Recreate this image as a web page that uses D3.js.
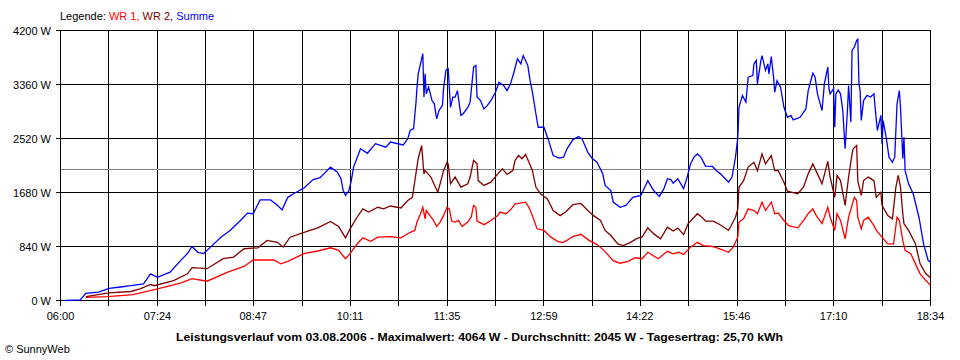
<!DOCTYPE html>
<html><head><meta charset="utf-8">
<script src="https://cdn.jsdelivr.net/npm/d3@7"></script>
<style>
html,body{margin:0;padding:0;background:#fff;}
text{font-family:"Liberation Sans",Arial,sans-serif;}
</style></head>
<body>
<svg id="c" width="960" height="360"></svg>
<script>
// ---- data (time of day, watts) ----
const xTickLabels = ["06:00","07:24","08:47","10:11","11:35","12:59","14:22","15:46","17:10","18:34"];
const yTickValues = [0, 840, 1680, 2520, 3360, 4200];
const average = 2045;
const titleText = "Leistungsverlauf vom 03.08.2006 - Maximalwert: 4064 W - Durchschnitt: 2045 W - Tagesertrag: 25,70 kWh";
const seriesNames = ["WR 1", "WR 2", "Summe"];

const wr1 = [
["06:22",50],["06:41",60],["07:03",90],["07:24",180],["07:44",270],["07:54",340],["08:07",300],["08:25",440],
["08:39",530],["08:47",630],["09:05",630],["09:11",570],["09:17",610],["09:31",730],["09:43",770],["09:54",820],
["10:01",780],["10:07",650],["10:11",730],["10:17",880],["10:22",975],["10:29",920],["10:35",985],["10:46",995],
["10:55",975],["11:02",1050],["11:07",1090],["11:09",1220],["11:12",1350],["11:14",1450],["11:16",1270],["11:17",1400],
["11:21",1300],["11:23",1255],["11:26",1150],["11:29",1220],["11:32",1320],["11:35",1450],["11:37",1425],["11:39",1235],
["11:42",1220],["11:45",1245],["11:48",1150],["11:53",1220],["11:56",1300],["11:58",1480],["12:00",1450],["12:01",1235],
["12:07",1180],["12:13",1245],["12:19",1320],["12:21",1375],["12:26",1350],["12:30",1410],["12:34",1505],["12:38",1515],
["12:43",1530],["12:46",1450],["12:49",1320],["12:53",1115],["12:59",1090],["13:05",985],["13:11",920],["13:15",900],
["13:19",935],["13:24",995],["13:31",1030],["13:38",935],["13:45",870],["13:51",780],["13:59",620],["14:05",580],
["14:12",610],["14:18",665],["14:24",650],["14:29",750],["14:38",650],["14:46",765],["14:51",725],["14:56",750],
["15:00",715],["15:06",830],["15:12",905],["15:17",855],["15:25",840],["15:32",800],["15:39",750],["15:43",830],
["15:47",985],["15:48",1220],["15:52",1270],["15:56",1425],["16:01",1400],["16:04",1350],["16:08",1530],["16:11",1400],
["16:16",1530],["16:19",1350],["16:22",1360],["16:27",1245],["16:31",1165],["16:39",1130],["16:44",1245],["16:48",1350],
["16:52",1425],["16:55",1320],["17:00",1195],["17:05",1450],["17:07",1295],["17:11",1090],["17:13",1350],["17:16",1245],
["17:20",960],["17:23",1295],["17:26",1480],["17:28",1605],["17:30",1555],["17:31",1295],["17:34",1115],["17:36",1245],
["17:40",1295],["17:45",1165],["17:47",1090],["17:52",985],["17:57",880],["18:02",880],["18:05",1295],["18:07",1245],
["18:10",935],["18:12",780],["18:17",725],["18:21",570],["18:25",415],["18:30",310],["18:34",235]
];

const wr2 = [
["06:22",60],["06:42",120],["07:01",140],["07:09",180],["07:18",250],["07:21",230],["07:38",310],["07:50",415],
["07:54",510],["08:07",495],["08:21",650],["08:30",675],["08:39",805],["08:51",820],["08:59",935],["09:08",905],
["09:13",830],["09:19",985],["09:31",1060],["09:43",1130],["09:54",1230],["10:01",1150],["10:07",975],["10:11",1115],
["10:17",1295],["10:22",1425],["10:27",1375],["10:35",1450],["10:40",1425],["10:46",1470],["10:55",1440],["11:01",1555],
["11:05",1605],["11:08",1970],["11:10",2205],["11:13",2410],["11:15",1970],["11:16",2020],["11:21",1920],["11:23",1840],
["11:27",1685],["11:29",1815],["11:32",2020],["11:35",2150],["11:36",2125],["11:38",1815],["11:42",1920],["11:47",1765],
["11:53",1815],["11:55",1920],["11:58",2180],["12:01",2125],["12:02",1865],["12:07",1790],["12:13",1840],["12:19",1970],
["12:23",2050],["12:27",1960],["12:32",2020],["12:34",2180],["12:37",2255],["12:40",2205],["12:43",2270],["12:46",2150],
["12:49",2020],["12:52",1765],["12:56",1660],["13:02",1580],["13:07",1400],["13:13",1320],["13:18",1380],["13:24",1490],
["13:31",1510],["13:37",1400],["13:42",1320],["13:48",1245],["13:52",1090],["13:57",1010],["14:03",880],["14:08",855],
["14:14",905],["14:20",970],["14:24",985],["14:29",1130],["14:34",1040],["14:40",960],["14:46",1140],["14:51",1080],
["14:55",1125],["15:00",1025],["15:04",1195],["15:12",1350],["15:16",1295],["15:19",1235],["15:26",1235],["15:32",1175],
["15:39",1090],["15:45",1295],["15:47",1425],["15:48",1765],["15:52",1865],["15:56",2075],["16:01",2150],["16:04",2020],
["16:08",2280],["16:11",2125],["16:16",2255],["16:19",2020],["16:22",2020],["16:27",1840],["16:30",1700],["16:39",1660],
["16:44",1765],["16:48",1970],["16:52",2125],["16:56",1970],["17:00",1815],["17:05",2165],["17:07",1920],["17:11",1605],
["17:13",1945],["17:16",1865],["17:20",1480],["17:23",1920],["17:26",2280],["17:27",2360],["17:30",2410],["17:31",1865],
["17:34",1635],["17:36",1865],["17:40",1920],["17:45",1865],["17:47",1605],["17:51",1685],["17:52",1480],["17:57",1320],
["18:01",1270],["18:04",1765],["18:06",1945],["18:08",1765],["18:10",1350],["18:11",1195],["18:15",1090],["18:21",880],
["18:25",570],["18:30",415],["18:34",355]
];

const summe = [
["06:04",0],["06:17",10],["06:22",110],["06:33",130],["06:42",190],["06:52",210],["07:01",230],["07:12",260],
["07:18",415],["07:24",360],["07:35",440],["07:44",620],["07:50",730],["07:54",840],["07:59",750],["08:04",730],
["08:10",830],["08:19",985],["08:27",1090],["08:36",1245],["08:42",1360],["08:47",1350],["08:53",1565],["09:02",1565],
["09:08",1480],["09:12",1410],["09:17",1605],["09:22",1660],["09:31",1750],["09:39",1880],["09:45",1910],["09:54",2075],
["10:00",1995],["10:03",1900],["10:05",1710],["10:07",1635],["10:10",1710],["10:12",1865],["10:14",2075],["10:20",2360],
["10:26",2290],["10:33",2440],["10:42",2385],["10:46",2465],["10:57",2420],["11:01",2515],["11:03",2645],["11:06",2675],
["11:08",3060],["11:09",3320],["11:10",3525],["11:12",3680],["11:14",3840],["11:15",3165],["11:16",3525],["11:17",3215],
["11:19",3320],["11:22",3110],["11:24",3060],["11:26",2825],["11:28",2955],["11:31",3035],["11:32",3295],["11:34",3580],
["11:36",3605],["11:38",3005],["11:40",3165],["11:42",3165],["11:44",3265],["11:47",2880],["11:49",2905],["11:53",3005],
["11:55",3085],["11:58",3630],["12:00",3655],["12:01",3165],["12:04",3110],["12:07",2980],["12:10",3035],["12:13",3110],
["12:17",3240],["12:20",3395],["12:24",3345],["12:27",3265],["12:30",3370],["12:33",3550],["12:36",3760],["12:39",3680],
["12:41",3810],["12:45",3655],["12:47",3420],["12:49",3240],["12:52",2905],["12:54",2695],["12:59",2695],["13:03",2490],
["13:07",2255],["13:12",2215],["13:16",2230],["13:19",2360],["13:24",2500],["13:29",2550],["13:32",2515],["13:37",2305],
["13:41",2205],["13:45",2150],["13:50",1970],["13:52",1790],["13:57",1710],["13:59",1530],["14:05",1450],["14:10",1480],
["14:16",1605],["14:23",1635],["14:25",1710],["14:29",1865],["14:34",1710],["14:39",1620],["14:43",1740],["14:46",1895],
["14:49",1880],["14:51",1825],["14:55",1895],["15:00",1740],["15:03",1910],["15:06",2125],["15:09",2230],["15:12",2280],
["15:15",2230],["15:19",2090],["15:25",2085],["15:29",2010],["15:32",1970],["15:39",1840],["15:42",1920],["15:45",2230],
["15:47",2540],["15:48",3005],["15:51",3190],["15:54",3085],["15:56",3475],["16:00",3500],["16:01",3680],["16:03",3735],
["16:04",3370],["16:07",3735],["16:08",3810],["16:11",3580],["16:13",3680],["16:14",3525],["16:16",3795],["16:18",3475],
["16:19",3240],["16:21",3420],["16:24",3320],["16:27",3005],["16:30",2850],["16:33",2880],["16:35",2810],["16:41",2850],
["16:46",2980],["16:48",3265],["16:52",3535],["16:54",3475],["16:56",3215],["16:58",3085],["17:00",2955],["17:02",3370],
["17:05",3630],["17:06",3295],["17:07",3215],["17:10",3295],["17:11",2695],["17:12",3215],["17:14",3275],["17:16",3215],
["17:18",2955],["17:19",2645],["17:20",2360],["17:22",2955],["17:23",3345],["17:25",2775],["17:26",3890],["17:28",3940],
["17:30",4045],["17:31",4064],["17:32",3370],["17:33",3265],["17:34",2800],["17:36",3110],["17:39",3190],["17:42",3165],
["17:45",3215],["17:46",3005],["17:48",2645],["17:51",2880],["17:52",2435],["17:53",2800],["17:56",2490],["17:58",2230],
["18:01",2150],["18:03",2230],["18:05",3060],["18:07",3265],["18:08",3005],["18:10",2205],["18:11",2540],["18:12",2020],
["18:15",1815],["18:19",1660],["18:24",1295],["18:28",880],["18:32",620],["18:34",595]
];

// ---- drawing ----
const svg = d3.select("#c");
const plotL = 60, plotR = 930, plotT = 30, plotB = 300;
const toMin = s => { const [h, m] = s.split(":").map(Number); return (h - 6) * 60 + m; };
const tEnd = toMin(xTickLabels[xTickLabels.length - 1]);
const x = d3.scaleLinear().domain([0, tEnd]).range([plotL + 0.5, plotR + 0.5]);
const y = d3.scaleLinear().domain([0, 4200]).range([plotB + 0.5, plotT + 0.5]);
const snap = v => Math.round(v - 0.5) + 0.5;

// vertical grid: 18 equal intervals, labelled every second
const gridT = d3.range(19).map(i => i * tEnd / 18);
const g = svg.append("g").attr("shape-rendering", "crispEdges");
g.selectAll("line.v").data(gridT).join("line")
  .attr("x1", d => snap(x(d))).attr("x2", d => snap(x(d)))
  .attr("y1", y(4200)).attr("y2", y(0) + 5)
  .attr("stroke", "#000").attr("stroke-width", 1);
g.selectAll("line.h").data(yTickValues).join("line")
  .attr("x1", x(0) - 5).attr("x2", x(tEnd))
  .attr("y1", d => snap(y(d))).attr("y2", d => snap(y(d)))
  .attr("stroke", "#000").attr("stroke-width", 1);
g.append("line")
  .attr("x1", x(0)).attr("x2", x(tEnd))
  .attr("y1", snap(y(average))).attr("y2", snap(y(average)))
  .attr("stroke", "#808080").attr("stroke-width", 1);

// y labels
svg.selectAll("text.yl").data(yTickValues).join("text")
  .attr("x", 51).attr("y", d => y(d) + 4)
  .attr("text-anchor", "end").attr("font-size", 11).attr("fill", "#000")
  .text(d => d + " W");
// x labels
svg.selectAll("text.xl").data(xTickLabels).join("text")
  .attr("x", d => x(toMin(d))).attr("y", 320)
  .attr("text-anchor", "middle").attr("font-size", 11).attr("fill", "#000")
  .text(d => d);

// lines
const line = d3.line().x(d => x(toMin(d[0]))).y(d => y(d[1]));
const colors = ["#ff0000", "#800000", "#0000ff"];
[wr1, wr2, summe].forEach((s, i) => {
  svg.append("path").attr("d", line(s)).attr("fill", "none")
    .attr("stroke", colors[i]).attr("stroke-width", 1.3).attr("stroke-linejoin", "miter");
});

// legend
const lg = svg.append("text").attr("x", 60).attr("y", 20).attr("font-size", 11);
lg.append("tspan").attr("fill", "#000").text("Legende: ");
seriesNames.forEach((n, i) => {
  lg.append("tspan").attr("fill", colors[i]).text(n + (i < seriesNames.length - 1 ? ", " : ""));
});

// title
svg.append("text").attr("x", 479.5).attr("y", 341).attr("text-anchor", "middle")
  .attr("font-size", 11.5).attr("font-weight", "bold").attr("fill", "#000")
  .attr("textLength", 607).attr("lengthAdjust", "spacingAndGlyphs")
  .text(titleText);
// copyright
svg.append("text").attr("x", 5).attr("y", 353).attr("font-size", 11).attr("fill", "#000")
  .text("\u00A9 SunnyWeb");
</script>
</body></html>
